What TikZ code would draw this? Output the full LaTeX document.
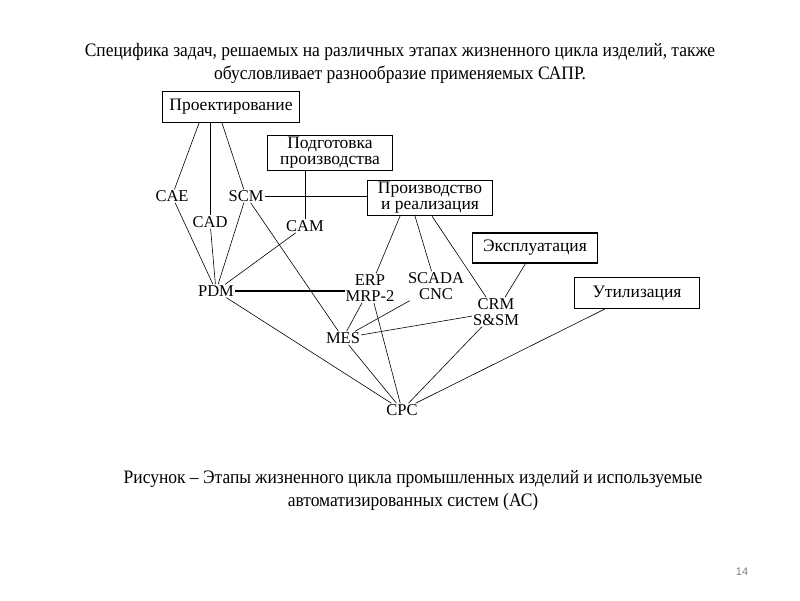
\documentclass[tikz,border=0pt]{standalone}
\usepackage{fontspec}
\setmainfont{Liberation Serif}
\newfontfamily\headfont[FakeStretch=0.92]{Liberation Serif}
\setsansfont{Liberation Sans}
\usetikzlibrary{calc}
\tikzset{
  stage/.style={draw, rectangle, line width=1.1pt, align=center, font=\fontsize{17.5}{16}\selectfont, minimum width=125pt, minimum height=31pt, inner sep=2pt},
  sys/.style={align=center, font=\fontsize{16.5}{16}\selectfont, inner sep=1pt},
  link/.style={line width=0.6pt},
  bus/.style={line width=1pt},
  thick bus/.style={line width=2pt},
  capn/.style={align=center, font=\headfont\fontsize{19}{23}\selectfont},
}
\begin{document}
\begin{tikzpicture}[x=1pt,y=-1pt]
\useasboundingbox (0,0) rectangle (800,600);
% headings
\node[capn] (head) at (400,63) {Специфика задач, решаемых на различных этапах жизненного цикла изделий, также\\обусловливает разнообразие применяемых САПР.};
\node[capn] (capt) at (413,491) {Рисунок – Этапы жизненного цикла промышленных изделий и используемые\\автоматизированных систем (АС)};
\node[font=\sffamily\fontsize{11}{11}\selectfont, text=black!50] (page) at (742,572) {14};
% life cycle stages
\node[stage, minimum width=137pt] (proj) at (231,107) {Проектирование};
\node[stage, minimum height=34pt] (podg) at (330,153) {Подготовка\\производства};
\node[stage, minimum height=35pt] (proizv) at (430,198) {Производство\\и реализация};
\node[stage, minimum height=30pt] (ekspl) at (535,248) {Эксплуатация};
\node[stage] (util) at (637,293) {Утилизация};
% systems
\node[sys] (cae) at (172,196) {CAE};
\node[sys] (cad) at (210,222) {CAD};
\node[sys] (scm) at (246,196) {SCM};
\node[sys] (cam) at (305,226) {CAM};
\node[sys] (pdm) at (216,291) {PDM};
\node[sys] (erp) at (370,288) {ERP\\MRP-2};
\node[sys] (scada) at (436,286) {SCADA\\CNC};
\node[sys] (crm) at (496,312) {CRM\\S\&SM};
\node[sys] (mes) at (343,338) {MES};
\node[sys] (cpc) at (402,410) {CPC};
% links
\draw[link] ($(proj.south)+(-32,0)$) -- (cae);
\draw[link] ($(proj.south)+(-21,0)$) -- (cad);
\draw[link] ($(proj.south)+(-9,0)$) -- (scm);
\draw[link] (cae) -- (pdm);
\draw[link] (cad) -- (pdm);
\draw[link] (scm) -- (pdm);
\draw[link] (cam) -- (pdm);
\draw[link] (scm) -- (mes);
\draw[bus] (scm) -- (scm -| proizv.west);
\draw[bus] (podg.south -| cam) -- (cam);
\draw[thick bus] (pdm) -- (erp.west |- pdm);
\draw[link] ($(proizv.south)+(-30,0)$) -- (erp);
\draw[link] ($(proizv.south)+(-15,0)$) -- (scada);
\draw[link] ($(proizv.south)+(2,0)$) -- (crm);
\draw[link] (ekspl) -- (crm);
\draw[link] (erp) -- (mes);
\draw[link] (scada) -- (mes);
\draw[link] (crm) -- (mes);
\draw[link] (erp) -- (cpc);
\draw[link] (mes) -- (cpc);
\draw[link] (pdm) -- (cpc);
\draw[link] (crm) -- (cpc);
\draw[link] (util) -- (cpc);
\end{tikzpicture}
\end{document}
